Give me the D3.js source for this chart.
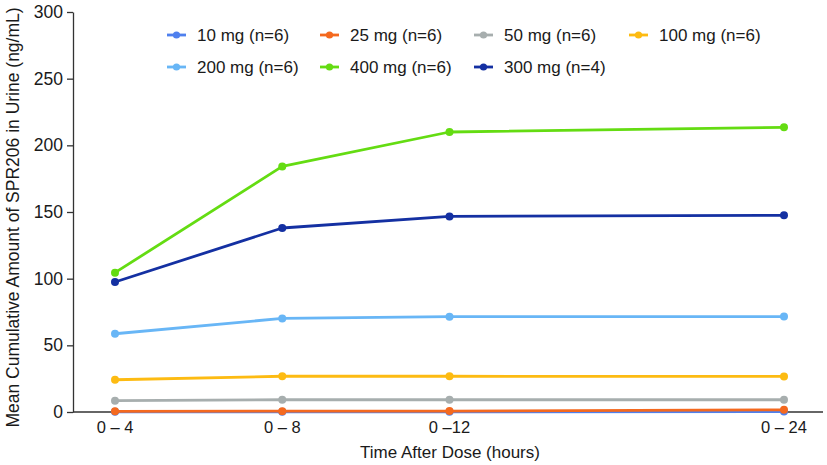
<!DOCTYPE html>
<html>
<head>
<meta charset="utf-8">
<script src="https://cdn.jsdelivr.net/npm/d3@7"></script>
<style>
  html, body { margin: 0; padding: 0; background: #fff; }
  svg { display: block; }
  text { font-family: "Liberation Sans", Arial, Helvetica, sans-serif; fill: #1a1a1a; }
</style>
</head>
<body>
<svg id="chart" width="827" height="465"></svg>
<script>
// ---- data ----
const categories = ["0 – 4", "0 – 8", "0 –12", "0 – 24"];
const hours = [4, 8, 12, 24];
const seriesNames = ["10 mg (n=6)", "25 mg (n=6)", "50 mg (n=6)", "100 mg (n=6)", "200 mg (n=6)", "400 mg (n=6)", "300 mg (n=4)"];
const dose10 = [0.1, 0.1, 0.1, 0.3];
const dose25 = [0.5, 0.6, 0.7, 1.6];
const dose50 = [8.5, 9.2, 9.2, 9.2];
const dose100 = [24.2, 26.8, 26.8, 26.7];
const dose200 = [58.7, 70.2, 71.5, 71.6];
const dose400 = [104.5, 184.2, 210, 213.5];
const dose300 = [97.5, 138, 146.7, 147.5];
const yTicks = [0, 50, 100, 150, 200, 250, 300];
const colors = ["#4f80ee", "#f4691f", "#a7aeae", "#fdbb12", "#68b6f6", "#64dc12", "#1430a2"];

const seriesValues = [dose10, dose25, dose50, dose100, dose200, dose400, dose300];
const series = seriesNames.map((name, i) => ({ name, color: colors[i], values: seriesValues[i] }));

// ---- layout ----
const svg = d3.select("#chart");
const axisX = 73, plotTop = 12, plotBottom = 412;
const firstX = 115, lastX = 784, axisEnd = 823;
const w = lastX - firstX;

const x = d3.scaleLinear()
  .domain(hours)
  .range([firstX, firstX + w / 4, firstX + w / 2, lastX]);
const y = d3.scaleLinear().domain([0, 300]).range([plotBottom, plotTop]);

// y axis
const yAxis = svg.append("g").attr("transform", `translate(${axisX},0)`)
  .call(d3.axisLeft(y).tickValues(yTicks).tickSize(6).tickPadding(4).tickSizeOuter(0));
yAxis.select(".domain").attr("stroke", "#333").attr("stroke-width", 1.3);
yAxis.selectAll(".tick line").attr("stroke", "#333").attr("stroke-width", 1.3);
yAxis.selectAll(".tick text").attr("font-size", 17.5).attr("fill", "#1a1a1a")
  .style("font-family", "'Liberation Sans', Arial, sans-serif");

// x axis line
svg.append("line")
  .attr("x1", axisX).attr("x2", axisEnd)
  .attr("y1", y(0)).attr("y2", y(0))
  .attr("stroke", "#333").attr("stroke-width", 1.3);

// x tick labels
svg.append("g").selectAll("text").data(categories).join("text")
  .attr("x", (d, i) => x(hours[i]))
  .attr("y", plotBottom + 21)
  .attr("text-anchor", "middle")
  .attr("font-size", 16.5)
  .text(d => d);

// axis titles
svg.append("text")
  .attr("x", 450)
  .attr("y", 458)
  .attr("text-anchor", "middle")
  .attr("font-size", 17)
  .text("Time After Dose (hours)");

svg.append("text")
  .attr("transform", `translate(19,${(5 + 430) / 2}) rotate(-90)`)
  .attr("text-anchor", "middle")
  .attr("font-size", 17.5)
  .text("Mean Cumulative Amount of SPR206 in Urine (ng/mL)");

// lines
const line = d3.line().x((d, i) => x(hours[i])).y(d => y(d));
const g = svg.append("g");
series.forEach(s => {
  g.append("path").datum(s.values)
    .attr("d", line)
    .attr("fill", "none")
    .attr("stroke", s.color)
    .attr("stroke-width", 2.8)
    .attr("stroke-linejoin", "round");
  g.selectAll(null).data(s.values).join("circle")
    .attr("cx", (d, i) => x(hours[i]))
    .attr("cy", d => y(d))
    .attr("r", 4)
    .attr("fill", s.color);
});

// legend
const legCols = [167, 320, 474, 629];
const legRows = [35, 67];
const leg = svg.append("g");
series.forEach((s, k) => {
  const cx = legCols[k % 4], cy = legRows[Math.floor(k / 4)];
  const item = leg.append("g").attr("transform", `translate(${cx},${cy})`);
  item.append("line").attr("x1", 0).attr("x2", 19).attr("y1", 0).attr("y2", 0)
    .attr("stroke", s.color).attr("stroke-width", 2.8);
  item.append("circle").attr("cx", 9.5).attr("cy", 0).attr("r", 3.6).attr("fill", s.color);
  item.append("text").attr("x", 30).attr("y", 6).attr("font-size", 17).text(s.name);
});
</script>
</body>
</html>
